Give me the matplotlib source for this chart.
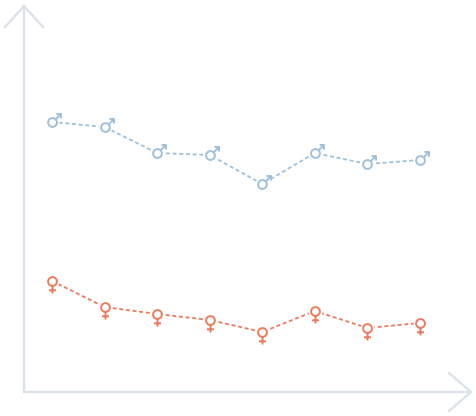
import matplotlib
matplotlib.use('Agg')
import matplotlib.pyplot as plt
from matplotlib.lines import Line2D
from matplotlib.path import Path

# heights above the x axis, one point per category
positions = [0, 1, 2, 3, 4, 5, 6, 7]
male = [270, 265, 239, 237, 208, 239, 228, 232]
female = [111, 85, 78, 72, 60, 81, 64, 69]

W, H = 476, 416
axis_color = '#dce2e9'
male_color = '#a0c1dc'
female_color = '#ee7b5e'


def line_path(*pts):
    return Path(pts, [Path.MOVETO] + [Path.LINETO] * (len(pts) - 1))


def circle(r):
    return Path(Path.unit_circle().vertices * r, Path.unit_circle().codes)


# symbols in pixel units, 0,0 is the data point
male_marker = Path.make_compound_path(
    circle(4.4),
    line_path((3.1, 3.1), (8.5, 8.5)),
    line_path((4.0, 8.5), (8.5, 8.5), (8.5, 4.0)),
)
female_marker = Path.make_compound_path(
    circle(4.4),
    line_path((0, -4.4), (0, -12)),
    line_path((-3.5, -8.8), (3.5, -8.8)),
)


def draw_series(ax, values, color, marker, size_px):
    ax.plot(positions, values, color=color, linewidth=1.3,
            linestyle=(0, (2.2, 1.5)), zorder=2)
    ax.plot(positions, values, linestyle='none', marker='o',
            markersize=10, markerfacecolor='white', markeredgecolor='none', zorder=3)
    ax.plot(positions, values, linestyle='none', marker=marker,
            markersize=size_px * 72 / 100, markerfacecolor='none',
            markeredgecolor=color, markeredgewidth=1.4, zorder=4)


def axis_line(fig, *pts):
    xs = [p[0] / W for p in pts]
    ys = [1 - p[1] / H for p in pts]
    fig.add_artist(Line2D(xs, ys, transform=fig.transFigure, color=axis_color,
                          linewidth=1.7, solid_joinstyle='miter'))


fig = plt.figure(figsize=(W / 100, H / 100), dpi=100, facecolor='white')
ax = fig.add_axes([24 / W, (H - 392) / H, (471 - 24) / W, (392 - 6) / H])
ax.set_xlim((24 - 52) / 52.57, (471 - 52) / 52.57)
ax.set_ylim(0, 386)
ax.set_xticks([])
ax.set_yticks([])
ax.patch.set_alpha(0)
for side in ['top', 'right', 'left', 'bottom']:
    ax.spines[side].set_visible(False)

draw_series(ax, male, male_color, male_marker, 17)
draw_series(ax, female, female_color, female_marker, 24)

# axes with open arrow heads
axis_line(fig, (24, 6), (24, 392), (471, 392))
axis_line(fig, (5, 27), (24, 6), (43, 27))
axis_line(fig, (449, 373), (471, 392), (449, 411))

plt.savefig('out.png', dpi=100, facecolor='white')
plt.close()
